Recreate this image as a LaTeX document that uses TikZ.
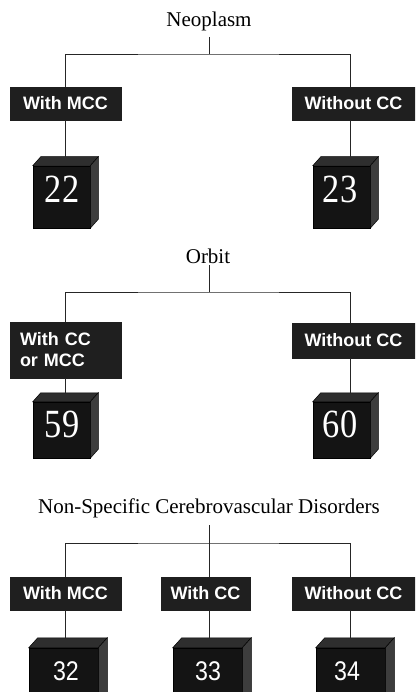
\documentclass[tikz,border=0pt]{standalone}
\usepackage{fontspec}
\setmainfont{Liberation Serif}
\setsansfont{Liberation Sans}
\newcommand{\cubefaces}[3]{%
  \filldraw[fill=black!82,draw=black,line width=0.5pt] (#1.north west) -- ++(#2,-#3) -- ([shift={(#2,-#3)}]#1.north east) -- (#1.north east) -- cycle;
  \filldraw[fill=black!76,draw=black,line width=0.5pt] (#1.north east) -- ++(#2,-#3) -- ([shift={(#2,-#3)}]#1.south east) -- (#1.south east) -- cycle;
}
\begin{document}
\begin{tikzpicture}[x=1pt,y=-1pt,
  ttl/.style={font=\fontsize{21}{24}\selectfont, anchor=base, inner sep=0pt},
  lbox/.style={fill=black!88, draw=black!88, text=white, font=\sffamily\bfseries\fontsize{18}{21}\selectfont, inner sep=0pt, minimum height=33pt},
  face/.style={fill=black!92, draw=black, line width=0.5pt, inner sep=0pt},
  link/.style={draw=black!85, line width=0.9pt},
  numA/.style={text=white, font=\fontsize{40}{40}\selectfont, inner sep=0pt},
  numB/.style={text=white, font=\sffamily\fontsize{27}{27}\selectfont, inner sep=0pt},
]
\useasboundingbox (0,0) rectangle (415,692);
\clip (0,0) rectangle (415,692);
\fill[white] (0,0) rectangle (415,692);

% ---------- Section 1: Neoplasm
\node[ttl] (t1) at (209,27) {Neoplasm};
\coordinate (t1b) at (209,37);
\coordinate (j1) at (209,54);
\node[lbox, minimum width=111pt] (b1) at (65.5,103.5) {With MCC};
\node[lbox, minimum width=123pt] (b2) at (353.5,103.5) {Without CC};
\node[face, minimum width=57pt, minimum height=62pt] (c1) at (61.5,197) {};
\node[face, minimum width=57pt, minimum height=62pt] (c2) at (341.5,197) {};
\cubefaces{c1}{8}{9}
\cubefaces{c2}{8}{9}
\coordinate (c1t) at (65,157);
\coordinate (c2t) at (350,157);
\node[numA] (n22) at (62,189) {\scalebox{0.86}[1]{22}};
\node[numA] (n23) at (340,189) {\scalebox{0.86}[1]{23}};
\draw[link] (t1b) -- (j1);
\draw[link] (b1.north -| c1t) |- (j1) -| (b2.north -| c2t);
\draw[link] (b1.south -| c1t) -- (c1t);
\draw[link] (b2.south -| c2t) -- (c2t);

% ---------- Section 2: Orbit
\node[ttl] (t2) at (208,263) {Orbit};
\coordinate (t2b) at (209,265);
\coordinate (j2) at (209,292);
\node[lbox, minimum height=56pt, text width=91pt, inner xsep=10pt, align=left, font=\sffamily\bfseries\fontsize{18}{21}\selectfont] (b3) at (65.5,350) {With CC\\or MCC};
\node[lbox, minimum width=123pt, minimum height=35pt] (b4) at (353.5,340.5) {Without CC};
\node[face, minimum width=57pt, minimum height=56pt] (c3) at (61.5,430) {};
\node[face, minimum width=57pt, minimum height=56pt] (c4) at (341.5,430) {};
\cubefaces{c3}{8}{9}
\cubefaces{c4}{8}{9}
\coordinate (c3t) at (65,393);
\coordinate (c4t) at (350,393);
\node[numA] (n59) at (62,424) {\scalebox{0.86}[1]{59}};
\node[numA] (n60) at (340,424) {\scalebox{0.86}[1]{60}};
\draw[link] (t2b) -- (j2);
\draw[link] (b3.north -| c3t) |- (j2) -| (b4.north -| c4t);
\draw[link] (b3.south -| c3t) -- (c3t);
\draw[link] (b4.south -| c4t) -- (c4t);

% ---------- Section 3: Non-Specific Cerebrovascular Disorders
\node[ttl] (t3) at (209,513) {Non-Specific Cerebrovascular Disorders};
\coordinate (t3b) at (209,525);
\coordinate (j3) at (209,543);
\node[lbox, minimum width=111pt] (b5) at (65.5,593.5) {With MCC};
\node[lbox, minimum width=89pt] (b6) at (205.5,593.5) {With CC};
\node[lbox, minimum width=123pt] (b7) at (353.5,593.5) {Without CC};
\node[face, minimum width=69pt, minimum height=62pt] (c5) at (63.5,679) {};
\node[face, minimum width=69pt, minimum height=62pt] (c6) at (207.5,679) {};
\node[face, minimum width=69pt, minimum height=62pt] (c7) at (350.5,679) {};
\cubefaces{c5}{9}{10}
\cubefaces{c6}{9}{10}
\cubefaces{c7}{9}{10}
\coordinate (c5t) at (65,638);
\coordinate (c6t) at (209,638);
\coordinate (c7t) at (350,638);
\node[numB] (n32) at (66,671) {\scalebox{0.86}[1]{32}};
\node[numB] (n33) at (208,671) {\scalebox{0.86}[1]{33}};
\node[numB] (n34) at (347,671) {\scalebox{0.86}[1]{34}};
\draw[link] (t3b) -- (b6.north -| c6t);
\draw[link] (b5.north -| c5t) |- (j3) -| (b7.north -| c7t);
\draw[link] (b5.south -| c5t) -- (c5t);
\draw[link] (b6.south -| c6t) -- (c6t);
\draw[link] (b7.south -| c7t) -- (c7t);
\end{tikzpicture}
\end{document}
